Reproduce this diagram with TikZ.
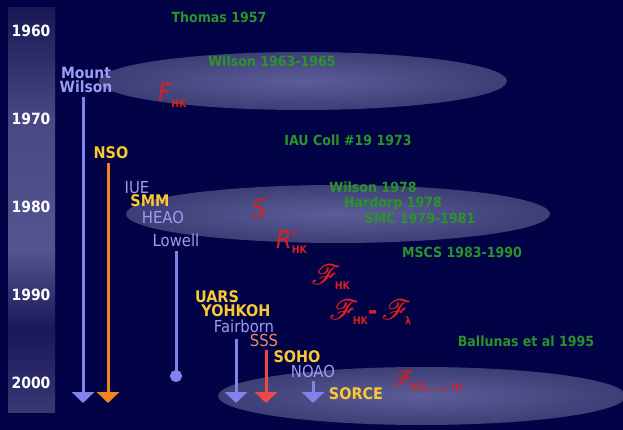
\documentclass[tikz,border=0pt]{standalone}
\usepackage{fontspec}
\usepackage{mathrsfs}
\setmainfont{DejaVu Sans}[FakeStretch=0.9]
\usetikzlibrary{arrows.meta}
\definecolor{bg}{RGB}{2,2,70}
\definecolor{lav}{RGB}{156,156,240}
\definecolor{lavline}{RGB}{130,130,236}
\definecolor{gold}{RGB}{250,200,50}
\definecolor{salmon}{RGB}{228,140,112}
\definecolor{refgreen}{RGB}{42,148,42}
\definecolor{symred}{RGB}{214,32,32}
\definecolor{orng}{RGB}{246,130,30}
\definecolor{redline}{RGB}{240,72,72}
\newcommand{\lsub}[1]{\raisebox{-0.4ex}{\fontsize{10.5}{10}\selectfont\bfseries #1}}
\newcommand{\scrF}[1]{\scalebox{#1}{\fontsize{21}{21}\selectfont\rlap{$\mathscr{F}$}\kern0.5pt$\mathscr{F}$}}

\begin{document}
\begin{tikzpicture}[x=1pt,y=-1pt,
  year/.style={anchor=base,inner sep=0pt,text=white,font=\fontsize{15.5}{15}\selectfont\bfseries},
  ref/.style={anchor=base,inner sep=0pt,text=refgreen,font=\fontsize{14}{14}\selectfont\bfseries},
  lab/.style={anchor=base,inner sep=1pt,text=lav,font=\fontsize{16.5}{16}\selectfont},
  glab/.style={anchor=base,inner sep=1pt,text=gold,font=\fontsize{16}{16}\selectfont\bfseries},
  sym/.style={anchor=base west,inner sep=0pt,text=symred,font=\fontsize{25}{25}\selectfont},
  band/.style={inner color={rgb,255:red,92;green,92;blue,152},outer color={rgb,255:red,62;green,62;blue,118}},
  run/.style={line width=3pt,shorten <=3pt,-{Triangle[width=22pt,length=11pt]}}]
  \useasboundingbox (0,0) rectangle (623,430);
  \fill[bg] (0,0) rectangle (623,430);

  % year bar
  \shade[top color={rgb,255:red,24;green,24;blue,84},bottom color={rgb,255:red,72;green,72;blue,132}] (8,8) rectangle (55,120);
  \shade[top color={rgb,255:red,72;green,72;blue,132},bottom color={rgb,255:red,84;green,84;blue,144}] (8,120) rectangle (55,250);
  \shade[top color={rgb,255:red,84;green,84;blue,144},bottom color={rgb,255:red,24;green,24;blue,90}] (8,250) rectangle (55,330);
  \shade[top color={rgb,255:red,24;green,24;blue,90},bottom color={rgb,255:red,56;green,56;blue,116}] (8,330) rectangle (55,412);
  \foreach \yr/\yy in {1960/37,1970/125,1980/213,1990/300,2000/388}
    \node[year] (y\yr) at (31,\yy) {\yr};

  % bands
  \shade[band] (303,81) ellipse [x radius=204,y radius=29];
  \shade[band] (338,214) ellipse [x radius=212,y radius=29];
  \shade[band] (422,396) ellipse [x radius=204,y radius=29];

  % references
  \node[ref] (thomas) at (219,23) {Thomas 1957};
  \node[ref] (wil63) at (272,67) {Wilson 1963-1965};
  \node[ref] (iau) at (348,146) {IAU Coll \#19 1973};
  \node[ref] (wil78) at (373,193) {Wilson 1978};
  \node[ref] (hard) at (393,208) {Hardorp 1978};
  \node[ref] (smc) at (420,224) {SMC 1979-1981};
  \node[ref] (mscs) at (462,258) {MSCS 1983-1990};
  \node[ref] (ball) at (526,346) {Ballunas et al 1995};

  % indices
  \node[sym] (fhk) at (158,102) {\textit{F}\lsub{HK}};
  \node[sym] (sidx) at (252,218) {\textit{S}};
  \node[sym] (rhk) at (276,248) {\textit{R}\rlap{$'$}\lsub{HK}};
  \node[sym] (shk) at (311,284) {\scrF{1.35}\hspace{-6pt}\lsub{HK}};
  \node[sym] (sdiff) at (329,319) {\scrF{1.35}\hspace{-6pt}\lsub{HK}{\bfseries -}\,\scrF{1.35}\hspace{-6pt}\lsub{λ}};
  \node[sym] (slam) at (392,385) {\scrF{1.0}\hspace{-4pt}\lsub{λ(1, ..., n)}};

  % observatories and missions
  \node[lab,anchor=center,align=center,font=\fontsize{15.5}{14}\selectfont\bfseries] (mw) at (86,80) {Mount\\Wilson};
  \node[glab] (nso) at (111,159) {NSO};
  \node[lab] (iue) at (137,194) {IUE};
  \node[glab] (smm) at (150,207) {SMM};
  \node[lab] (heao) at (163,223) {HEAO};
  \node[lab] (lowell) at (176,247) {Lowell};
  \node[glab] (uars) at (217,302) {UARS};
  \node[glab] (yoh) at (236,316) {YOHKOH};
  \node[lab] (fair) at (244,332) {Fairborn};
  \node[lab,text=salmon] (sss) at (264,346) {SSS};
  \node[glab] (soho) at (297,362) {SOHO};
  \node[lab] (noao) at (313,377) {NOAO};
  \node[glab] (sorce) at (356,399) {SORCE};

  \coordinate (mwend) at (83,403);
  \coordinate (nsoend) at (108,403);
  \coordinate (lowend) at (176,382);
  \coordinate (fairend) at (236,403);
  \coordinate (sssend) at (266,403);
  \coordinate (noaoend) at (313,403);
  \draw[run,lavline] (mw.south -| mwend) -- (mwend);
  \draw[run,orng] (nso.south -| nsoend) -- (nsoend);
  \draw[lavline,line width=3pt,shorten <=3pt,-{Circle[length=12pt]}] (lowell.south -| lowend) -- (lowend);
  \draw[run,lavline] ([yshift=-3pt]fair.south -| fairend) -- (fairend);
  \draw[run,redline] (sss.south -| sssend) -- (sssend);
  \draw[run,lavline] (noao.south -| noaoend) -- (noaoend);
\end{tikzpicture}
\end{document}
